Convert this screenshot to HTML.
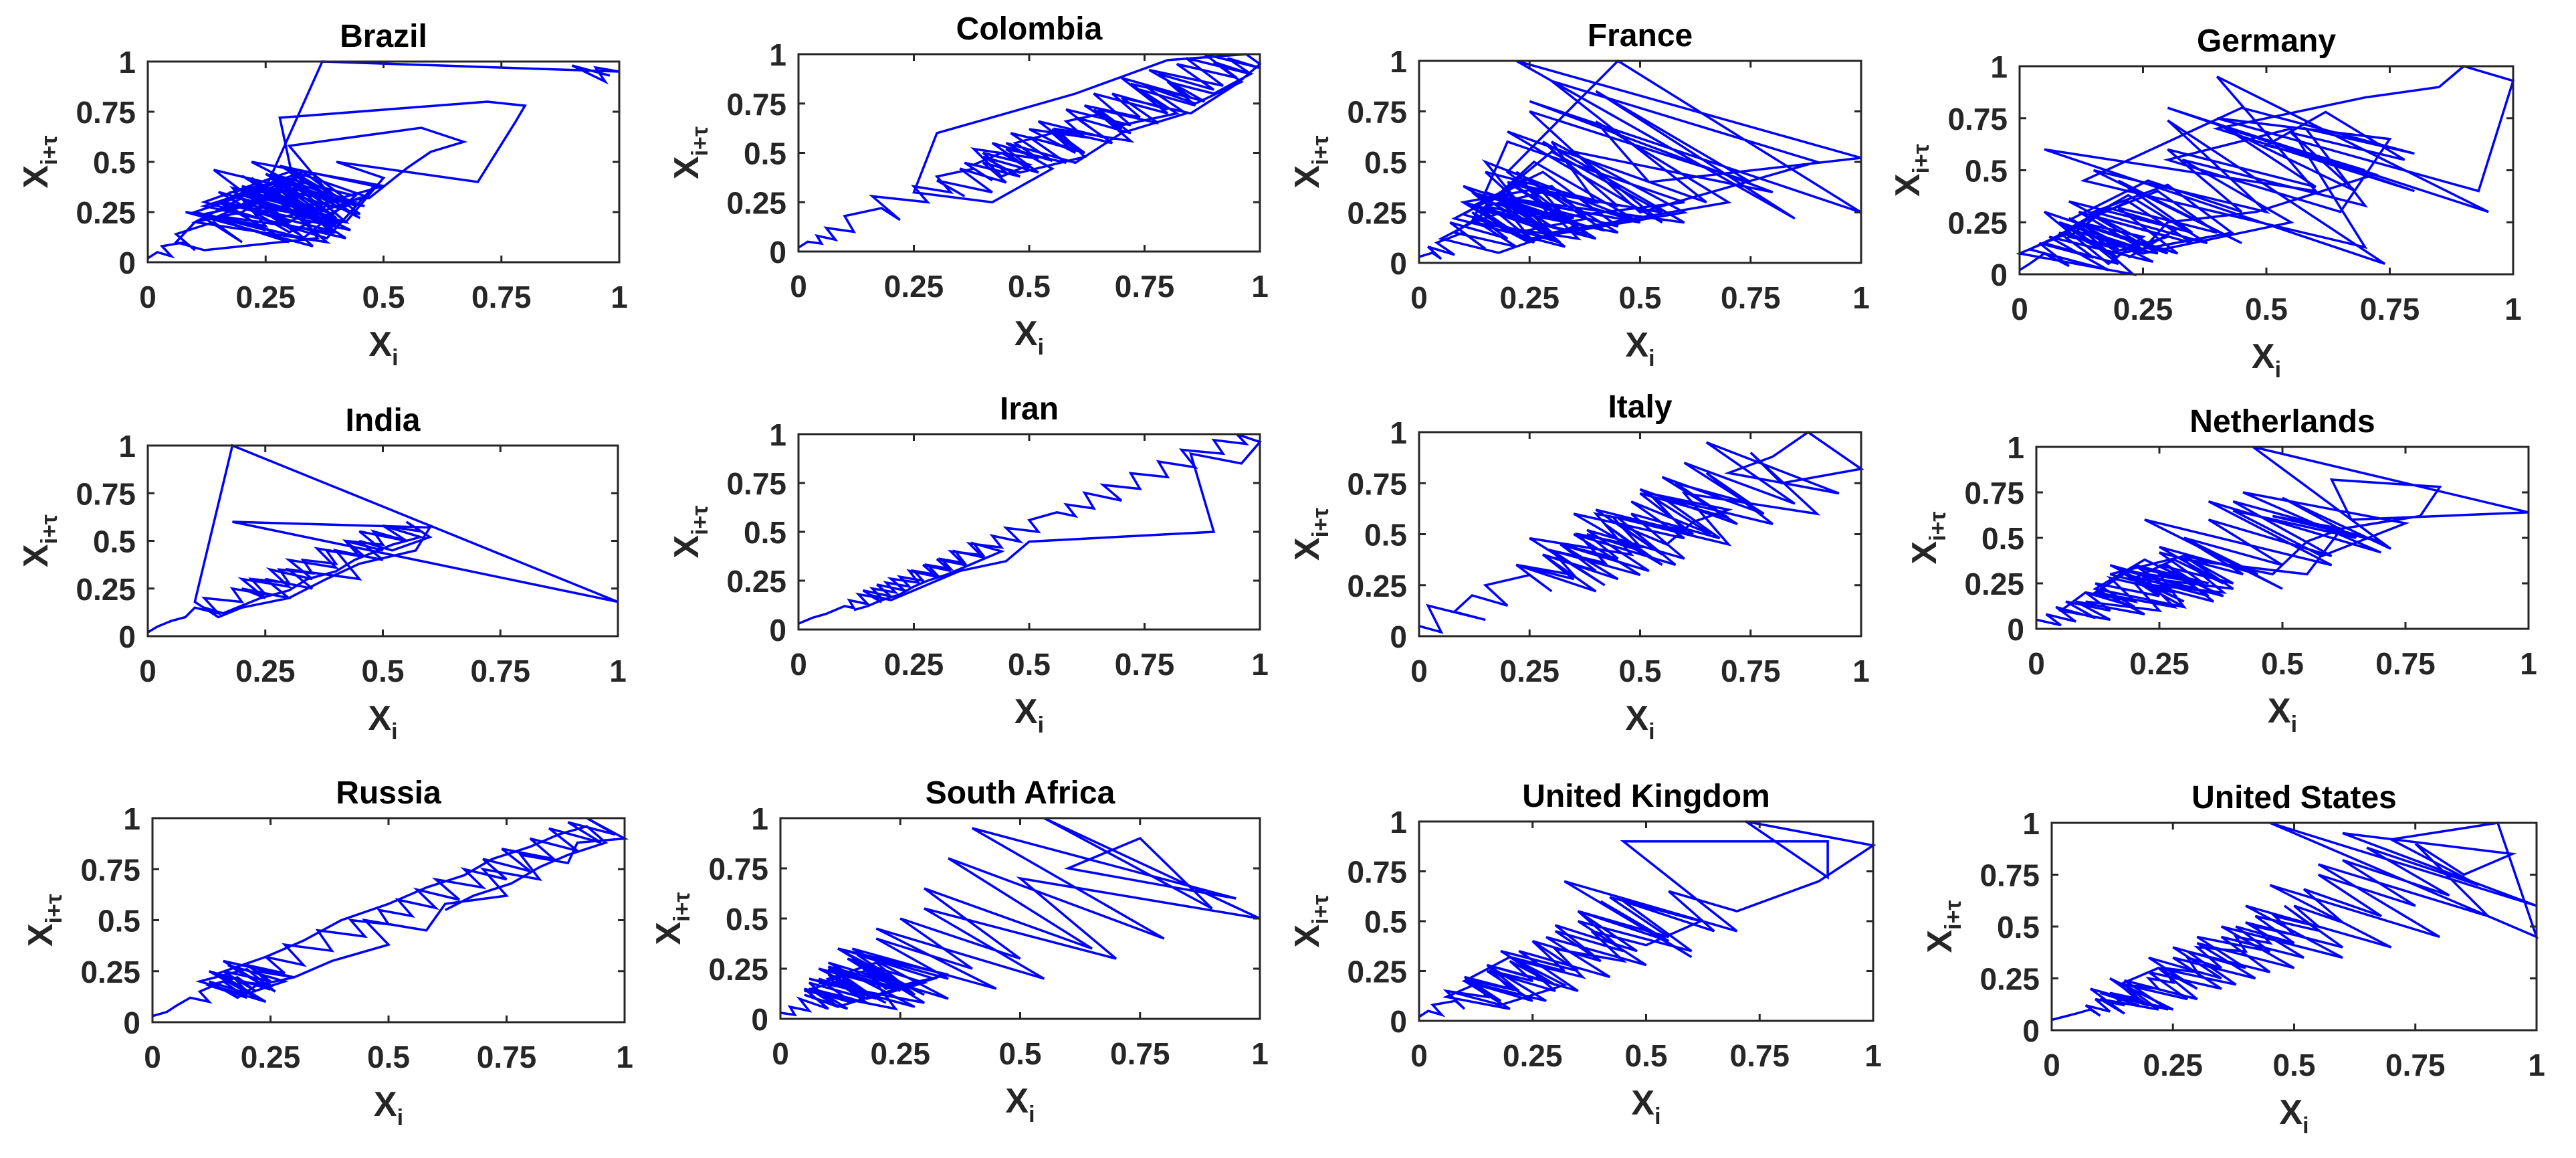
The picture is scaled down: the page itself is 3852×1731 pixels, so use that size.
<!DOCTYPE html>
<html><head><meta charset="utf-8"><style>
html,body{margin:0;padding:0;background:#fff;}
svg{display:block;font-family:"Liberation Sans",Arial,sans-serif;font-weight:bold;}
</style></head><body>
<svg id="fig" width="3852" height="1731" viewBox="0 0 3852 1731" xmlns="http://www.w3.org/2000/svg"></svg>
<script>
const countries = ["Brazil","Colombia","France","Germany","India","Iran","Italy","Netherlands","Russia","South Africa","United Kingdom","United States"];
const tickValues = [0,0.25,0.5,0.75,1];
const tickLabels = ["0","0.25","0.5","0.75","1"];
const brazilSeries = [0,0.02,0.05,0.03,0.08,0.1,0.06,0.14,0.2,0.1,0.25,0.16,0.3,0.2,0.36,0.26,0.42,0.3,0.46,0.33,0.22,0.4,0.18,0.35,0.44,0.28,0.48,0.38,0.12,0.3,0.45,0.22,0.5,0.38,
 0.3,0.2,0.38,0.25,0.44,0.3,0.15,0.35,0.22,0.42,0.12,0.28,0.4,0.18,0.33,0.45,0.24,0.38,0.1,0.2,0.32,0.14,0.46,0.28,0.36,0.2,0.43,0.16,0.3,0.4,0.22,0.35,0.08,0.25,0.18,0.37,0.26,0.44,0.33,0.12,0.24,0.3,0.41,0.19,0.34,0.27,0.39,0.15,0.23,0.31,0.42,0.2,0.29,0.36,0.12,0.06,0.1,0.2,0.25,0.32,0.38,0.28,0.22,0.34,0.4,0.3,
 0.58,0.67,0.6,0.55,0.47,0.32,0.28,0.72,0.8,0.78,0.7,0.4,0.5,0.42,0.2,0.35,0.26,0.4,0.15,0.3,0.1,0.25,0.37,1.0,0.95,0.97,0.9,0.98,0.93];
const colombiaSeries = [0,0.02,0.05,0.04,0.08,0.06,0.12,0.1,0.18,0.22,0.16,0.28,0.25,0.33,0.3,0.38,0.42,0.36,0.45,0.4,0.5,0.44,0.38,0.52,0.47,0.55,0.6,0.5,0.62,0.58,0.66,0.7,0.62,0.74,0.68,0.8,0.72,0.85,0.78,0.9,0.82,0.95,0.88,1.0,0.93,0.98,0.9,0.96,0.86,0.75,0.84,0.7,0.6,0.45,0.55,0.42,0.25,0.3,0.6,0.8,0.97,1.0,0.95,
 0.85,0.7,0.78,0.65,0.72,0.6,0.68,0.55,0.62,0.5,0.58,0.45,0.52,0.4,0.48,0.38,0.44,0.5,0.42,0.55,0.46,0.6,0.52,0.66,0.58,0.72,0.64,0.8,0.7,0.88,0.76,0.92,0.84,0.98,0.9,0.8,0.86,0.74,0.82,0.7,0.64,0.72,0.56,0.62,0.48,0.4,0.45,0.35,0.42,0.3,0.36,0.28];
const franceSeries = [0,0.03,0.05,0.02,0.08,0.04,0.1,0.15,0.07,0.2,0.12,0.25,0.1,0.3,0.18,0.35,0.22,0.28,0.15,0.5,0.2,0.4,0.3,0.6,0.25,0.12,0.35,0.2,0.45,1.0,0.25,0.8,0.35,0.55,0.2,0.65,0.3,0.9,0.5,0.25,0.75,0.4,0.85,0.22,1.0,0.52,0.4,0.7,0.3,0.15,0.45,0.28,0.6,0.2,0.32,0.1,0.38,0.18,0.3,0.12,0.22,0.08,0.15,
 0.25,0.1,0.3,0.15,0.35,0.2,0.4,0.12,0.28,0.45,0.18,0.33,0.08,0.22,0.38,0.14,0.26,0.5,0.2,0.32,0.1,0.24,0.42,0.16,0.3,0.55,0.25,0.36,0.12,0.2,0.6,0.3,0.22,0.45,0.15,0.28,0.35,0.18,0.05,0.12,0.2,0.26,0.1,0.3,0.38,0.22,0.15];
const germanySeries = [0,0.02,0.05,0.1,0.04,0.15,0.08,0.2,0.12,0.25,0.18,0.05,0.3,0.1,0.35,0.2,0.45,0.15,0.5,0.3,0.74,0.05,0.6,0.4,0.95,0.3,0.8,0.4,0.7,0.85,0.9,1.0,0.93,0.4,0.75,0.65,0.3,0.55,0.7,0.13,0.45,0.8,0.58,0.7,0.33,0.55,0.25,0.1,0.22,0.38,0.15,0.3,0.43,0.2,0.1,0.27,0.06,0.18,0.02,0.12,0.23,0.0,0.1,
 0.2,0.08,0.25,0.12,0.3,0.18,0.1,0.22,0.35,0.15,0.28,0.4,0.2,0.32,0.1,0.26,0.45,0.3,0.6,0.42,0.7,0.5,0.62,0.78,0.55,0.68,0.4,0.72,0.48,0.3,0.25,0.12,0.2,0.05,0.15,0.28,0.1,0.18,0.32,0.22,0.08];
const indiaSeries = [0,0.02,0.05,0.08,0.1,0.15,0.12,0.2,0.18,0.25,0.22,0.3,0.28,0.35,0.33,0.4,0.38,0.45,0.42,0.5,0.48,0.55,0.5,0.58,0.55,0.6,0.52,0.45,0.5,0.4,0.45,0.3,0.35,0.25,0.3,0.2,0.15,0.1,0.18,1.0,0.18,0.6,0.57,0.45,0.38,0.3,0.2,
 0.25,0.2,0.3,0.26,0.35,0.3,0.4,0.36,0.46,0.42,0.5,0.45,0.55,0.5,0.58,0.52,0.48,0.44,0.4,0.34,0.3,0.24,0.2,0.16,0.12,0.15,0.1];
const iranSeries = [0,0.03,0.06,0.08,0.1,0.12,0.11,0.15,0.13,0.18,0.16,0.21,0.19,0.24,0.22,0.27,0.25,0.3,0.28,0.33,0.31,0.36,0.34,0.4,0.37,0.44,0.42,0.48,0.45,0.52,0.5,0.56,0.6,0.58,0.64,0.62,0.7,0.66,0.74,0.72,0.8,0.78,0.86,0.83,0.92,0.9,0.97,0.95,1.0,0.96,0.85,0.9,0.5,0.45,0.35,0.3,0.25,0.2,0.15,
 0.18,0.14,0.2,0.17,0.23,0.2,0.26,0.24,0.3,0.27,0.33,0.3,0.36,0.33,0.4,0.38,0.44,0.4,0.36,0.32,0.28,0.25,0.22,0.18,0.15,0.12,0.1];
const italySeries = [0,0.05,0.02,0.15,0.08,0.12,0.2,0.15,0.25,0.3,0.22,0.35,0.28,0.4,0.32,0.45,0.38,0.5,0.42,0.55,0.35,0.6,0.48,0.66,0.5,0.72,0.55,0.78,0.6,0.85,0.65,0.95,0.7,0.8,0.88,1.0,0.82,0.75,0.9,0.6,0.7,0.45,0.58,0.35,0.5,0.3,0.42,0.25,0.48,0.4,0.6,0.52,0.7,0.62,0.56,
 0.45,0.55,0.4,0.62,0.5,0.7,0.58,0.75,0.65,0.8,0.55,0.68,0.48,0.6,0.38,0.52,0.32,0.45,0.28,0.4,0.22,0.35,0.3,0.42,0.36,0.5,0.44,0.58];
const netherlandsSeries = [0,0.05,0.02,0.08,0.04,0.12,0.06,0.15,0.1,0.2,0.12,0.25,0.18,0.3,0.15,0.35,0.2,0.28,0.38,0.25,0.45,0.3,0.5,0.22,0.6,0.35,0.7,0.42,0.75,0.58,0.4,0.65,0.5,0.72,0.44,1.0,0.64,0.6,0.82,0.78,0.62,0.55,0.48,0.3,0.4,0.25,0.35,0.18,0.3,0.12,0.22,0.08,0.15,0.05,0.1,
 0.2,0.15,0.28,0.2,0.35,0.25,0.3,0.12,0.22,0.38,0.18,0.32,0.26,0.36,0.15,0.3,0.4,0.22,0.28,0.12,0.2,0.34,0.25,0.42,0.3,0.5,0.35,0.6,0.4,0.7,0.48,0.62,0.55,0.3,0.38,0.2,0.25,0.1,0.15];
const russiaSeries = [0,0.03,0.05,0.08,0.12,0.1,0.15,0.2,0.12,0.18,0.22,0.15,0.25,0.2,0.28,0.24,0.32,0.28,0.38,0.35,0.45,0.42,0.5,0.48,0.55,0.52,0.6,0.56,0.65,0.6,0.7,0.66,0.75,0.7,0.8,0.74,0.85,0.8,0.9,0.84,0.95,0.88,0.98,0.92,1.0,0.9,0.88,0.78,0.82,0.7,0.75,0.62,0.58,0.45,0.5,0.38,0.3,0.22,0.25,0.18,0.2,0.15,
 0.22,0.12,0.25,0.16,0.28,0.2,0.14,0.24,0.1,0.2,0.26,0.15,0.3,0.22,0.18,0.12,0.2,0.14,0.24,0.32,0.4,0.5,0.58,0.66,0.72,0.8,0.86,0.92,0.96,0.88,0.82,0.76,0.68,0.62,0.55];
const southAfricaSeries = [0,0.03,0.02,0.06,0.04,0.1,0.05,0.15,0.08,0.2,0.1,0.25,0.15,0.3,0.12,0.35,0.2,0.4,0.25,0.5,0.3,0.65,0.35,0.8,0.4,0.95,0.6,0.75,0.9,0.55,1.0,0.5,0.7,0.3,0.55,0.2,0.45,0.15,0.35,0.1,0.28,0.06,0.2,0.12,0.18,0.08,0.14,0.05,
 0.12,0.06,0.18,0.1,0.22,0.08,0.25,0.14,0.3,0.18,0.1,0.2,0.28,0.12,0.35,0.22,0.15,0.3,0.08,0.18,0.24,0.05,0.14,0.2,0.1,0.26,0.16,0.32,0.2,0.12,0.06,0.15,0.1];
const ukSeries = [0,0.02,0.05,0.03,0.08,0.1,0.06,0.15,0.12,0.2,0.16,0.25,0.2,0.3,0.18,0.35,0.25,0.4,0.3,0.45,0.35,0.55,0.4,0.6,0.32,0.7,0.45,0.9,0.9,0.72,1.0,0.88,0.7,0.55,0.65,0.45,0.6,0.35,0.5,0.28,0.42,0.22,0.35,0.15,0.28,0.1,0.2,0.06,0.12,
 0.18,0.1,0.22,0.15,0.28,0.2,0.32,0.25,0.4,0.3,0.48,0.35,0.55,0.42,0.62,0.5,0.38,0.45,0.3,0.36,0.22,0.3,0.15,0.25,0.1,0.2,0.32,0.18,0.08,0.14];
const usSeries = [0,0.05,0.08,0.1,0.07,0.12,0.09,0.15,0.12,0.18,0.15,0.22,0.2,0.25,0.23,0.3,0.28,0.35,0.3,0.4,0.38,0.45,0.42,0.5,0.46,0.55,0.5,0.6,0.52,0.68,0.55,0.75,0.6,0.82,0.65,0.88,0.7,0.92,1.0,0.45,1.0,0.6,0.95,0.85,0.75,0.9,0.55,0.8,0.45,0.7,0.4,0.6,0.35,0.5,0.3,0.42,0.25,0.35,0.2,0.28,0.15,0.22,0.1,
 0.15,0.08,0.2,0.12,0.25,0.1,0.18,0.14,0.22,0.3,0.2,0.35,0.25,0.4,0.3,0.45,0.38,0.5,0.42,0.55,0.48,0.6,0.4,0.52,0.35,0.45,0.28,0.38,0.22,0.3,0.15,0.24,0.1,0.18,0.12];
const allSeries = [brazilSeries,colombiaSeries,franceSeries,germanySeries,indiaSeries,iranSeries,italySeries,netherlandsSeries,russiaSeries,southAfricaSeries,ukSeries,usSeries];

const boxes = [
 [221,92,926,392],[1194,81,1884,376],[2122,91,2783,393],[3020,99,3758,410],
 [221,666,924,951],[1194,649,1884,941],[2122,646,2783,951],[3045,668,3781,940],
 [228,1223,934,1528],[1167,1223,1884,1523],[2122,1228,2801,1526],[3068,1230,3793,1540]
];
const NS = "http://www.w3.org/2000/svg";
const svg = document.getElementById("fig");
function mk(tag, attrs, parent){
  const e = document.createElementNS(NS, tag);
  for (const k in attrs) e.setAttribute(k, attrs[k]);
  (parent||svg).appendChild(e);
  return e;
}
function slug(s){return s.toLowerCase().replace(/\s+/g,'-');}
countries.forEach((name, idx) => {
  const [L,T,R,B] = boxes[idx];
  const xs = v => L + v*(R-L);
  const ys = v => B - v*(B-T);
  const g = mk("g", {});
  
  
  const s = allSeries[idx];
  let d = "";
  for (let i=0;i<s.length-1;i++){
    d += (i===0?"M":"L") + xs(s[i]).toFixed(1) + "," + ys(s[i+1]).toFixed(1);
  }
  const path = mk("path", {d:d, fill:"none", stroke:"#0000ff", "stroke-width":"3.5", "stroke-linejoin":"miter"}, g);
  
  
  const rect = mk("rect", {x:L, y:T, width:R-L, height:B-T, fill:"none", stroke:"#262626", "stroke-width":"3"}, g);
  
  
  tickValues.forEach((v,i) => {
    const x = xs(v), y = ys(v);
    mk("line",{x1:x,y1:B,x2:x,y2:B-10,stroke:"#262626","stroke-width":"3"},g);
    mk("line",{x1:x,y1:T,x2:x,y2:T+10,stroke:"#262626","stroke-width":"3"},g);
    mk("line",{x1:L,y1:y,x2:L+10,y2:y,stroke:"#262626","stroke-width":"3"},g);
    mk("line",{x1:R,y1:y,x2:R-10,y2:y,stroke:"#262626","stroke-width":"3"},g);
    const tx = mk("text",{x:x,y:B+68,"text-anchor":"middle","font-size":"46",fill:"#262626"},g);
    tx.textContent = tickLabels[i];
    
    
    const ty = mk("text",{x:L-18,y:y+17,"text-anchor":"end","font-size":"46",fill:"#262626"},g);
    ty.textContent = tickLabels[i];
    
    
  });
  const tt = mk("text",{x:(L+R)/2,y:T-22,"text-anchor":"middle","font-size":"48",fill:"#000"},g);
  tt.textContent = name;
  
  
  const xl = mk("text",{x:(L+R)/2,y:B+140,"text-anchor":"middle","font-size":"52",fill:"#262626"},g);
  
  
  xl.appendChild(document.createTextNode("X"));
  const sub = mk("tspan",{"font-size":"34",dy:"14"},xl);
  sub.textContent = "i";
  const cx = L-150, cy = (T+B)/2;
  const yl = mk("text",{x:cx,y:cy,"text-anchor":"middle","font-size":"52",fill:"#262626",transform:"rotate(-90 "+cx+" "+cy+")"},g);
  
  
  yl.appendChild(document.createTextNode("X"));
  const sub2 = mk("tspan",{"font-size":"34",dy:"14"},yl);
  sub2.textContent = "i+τ";
});
</script>
</body></html>
